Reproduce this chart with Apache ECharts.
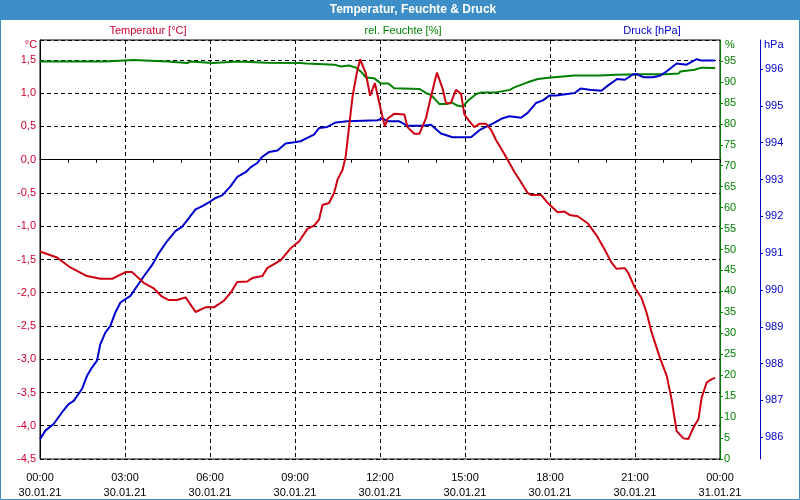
<!DOCTYPE html>
<html>
<head>
<meta charset="utf-8">
<script src="https://cdn.jsdelivr.net/npm/echarts@6/dist/echarts.min.js"></script>
<style>
html,body{margin:0;padding:0;background:#fff;}
#c{width:800px;height:500px;}
</style>
</head>
<body>
<div id="c"></div>
<script>
// ---- data (hours since 30.01.21 00:00) ----
const tempHours = [0,0.6,1.07,1.66,2.13,2.55,3.02,3.25,3.66,4.0,4.31,4.55,4.84,5.14,5.49,5.84,6.14,6.49,6.73,6.96,7.32,7.49,7.85,8.02,8.5,8.85,9.14,9.44,9.67,9.85,9.97,10.2,10.38,10.5,10.68,10.79,10.91,11.03,11.18,11.3,11.5,11.65,11.82,12.03,12.17,12.27,12.5,12.86,12.97,13.21,13.39,13.62,13.8,14.01,14.21,14.33,14.5,14.68,14.86,14.98,15.15,15.33,15.51,15.74,15.92,16.09,16.3,16.45,16.74,16.98,17.21,17.33,17.68,17.92,18.27,18.51,18.69,18.98,19.34,19.63,19.93,20.16,20.35,20.64,20.76,21.0,21.23,21.41,21.59,21.88,22.12,22.29,22.47,22.71,22.88,23.06,23.24,23.35,23.53,23.71,23.83];
const tempValues = [-1.38,-1.47,-1.62,-1.75,-1.79,-1.79,-1.69,-1.69,-1.85,-1.93,-2.06,-2.11,-2.11,-2.07,-2.29,-2.22,-2.22,-2.12,-2.0,-1.84,-1.83,-1.78,-1.75,-1.63,-1.51,-1.33,-1.23,-1.04,-0.99,-0.9,-0.68,-0.65,-0.5,-0.3,-0.15,0.05,0.5,0.95,1.3,1.51,1.3,0.96,1.15,0.75,0.5,0.62,0.69,0.68,0.49,0.39,0.39,0.62,0.95,1.31,1.07,0.85,0.85,1.05,0.99,0.68,0.58,0.49,0.54,0.54,0.45,0.3,0.15,0.04,-0.18,-0.34,-0.5,-0.53,-0.53,-0.65,-0.79,-0.78,-0.83,-0.85,-0.96,-1.13,-1.35,-1.54,-1.64,-1.63,-1.7,-1.93,-2.08,-2.3,-2.6,-2.98,-3.25,-3.6,-4.08,-4.19,-4.2,-4.03,-3.9,-3.58,-3.35,-3.3,-3.28];

const humHours = [0,2.3,2.31,3.3,3.35,4.5,4.55,5.2,5.3,5.35,6.1,6.15,7.0,7.05,8.0,9.2,9.4,10.4,10.6,10.9,11.15,11.32,11.51,11.79,12.03,12.3,12.5,13.4,13.63,13.8,14.1,14.34,14.52,14.75,14.93,15.1,15.4,15.58,16.1,16.58,16.74,17.21,17.57,18.04,18.87,19.76,20.34,21.2,22.1,22.55,22.6,23.1,23.35,23.83];
const humValues = [94.85,94.85,95.2,95.2,94.85,94.85,94.5,94.5,94.85,94.5,94.5,94.85,94.85,94.5,94.6,94.5,94.4,94.1,93.7,93.9,93.4,92.5,91.05,90.9,89.6,89.6,88.5,88.3,87.3,86.9,84.7,84.7,85.1,84.3,84.1,85.5,87.1,87.5,87.5,88.1,88.7,89.9,90.7,91.05,91.5,91.5,91.7,91.85,91.85,92.0,92.5,92.9,93.4,93.3];

const pressHours = [0,0.19,0.48,0.78,1.01,1.19,1.48,1.66,1.84,2.01,2.13,2.31,2.48,2.66,2.84,3.19,3.43,3.67,3.96,4.2,4.49,4.78,5.02,5.26,5.49,5.73,6.02,6.2,6.43,6.73,6.96,7.26,7.43,7.67,7.85,8.09,8.38,8.67,8.97,9.2,9.38,9.67,9.85,10.14,10.44,10.85,11.91,12.09,12.27,12.68,12.97,13.5,13.8,14.15,14.56,15.21,15.51,15.74,15.98,16.31,16.57,16.98,17.21,17.51,17.75,17.98,18.22,18.87,19.08,19.4,19.81,20.04,20.37,20.64,20.94,21.06,21.29,21.63,21.88,22.12,22.47,22.82,23.18,23.35,23.82];
const pressValues = [985.95,986.18,986.36,986.68,986.9,986.99,987.31,987.67,987.9,988.08,988.53,988.85,989.02,989.39,989.66,989.84,990.11,990.38,990.68,991.01,991.33,991.6,991.72,991.96,992.19,992.28,992.41,992.5,992.57,992.82,993.07,993.2,993.33,993.45,993.62,993.75,993.79,993.98,994.01,994.04,994.11,994.22,994.4,994.43,994.55,994.58,994.61,994.66,994.58,994.58,994.46,994.46,994.49,994.25,994.15,994.15,994.34,994.43,994.52,994.66,994.72,994.68,994.81,995.08,995.15,995.28,995.28,995.35,995.47,995.44,995.41,995.55,995.73,995.71,995.86,995.86,995.78,995.78,995.82,995.94,996.15,996.12,996.27,996.23,996.23];

const xTickHours = [0,3,6,9,12,15,18,21,24];
const dateLabels = ['30.01.21','31.01.21'];

const zip = (a,b) => a.map((v,i)=>[v,b[i]]);
const FONT = 'Liberation Sans';
const RED = '#cc0010', RED_T = '#d00030', GREEN = '#008000', BLUE = '#0000cc';

const chart = echarts.init(document.getElementById('c'), null, {renderer:'canvas'});
chart.setOption({
  animation:false,
  backgroundColor:'#ffffff',
  grid:{left:40,right:80,top:40,bottom:40,show:true,borderColor:'#000',borderWidth:1,backgroundColor:'#fff'},
  xAxis:{
    type:'value',min:0,max:24,interval:3,
    axisLine:{lineStyle:{color:'#000',width:1}},
    axisTick:{show:true,length:3,lineStyle:{color:'#000'}},
    minorTick:{show:true,splitNumber:3,length:3,lineStyle:{color:'#000'}},
    splitLine:{show:true,lineStyle:{color:'#000',type:[4,3],width:1}},
    axisLabel:{
      color:'#000',fontFamily:FONT,fontSize:11,margin:11,lineHeight:15,
      formatter:v=>{
        const h = v % 24;
        const hh = (h<10?'0':'')+h+':00';
        return hh+'\n'+(v>=24?dateLabels[1]:dateLabels[0]);
      }
    }
  },
  yAxis:[
    {
      type:'value',position:'left',min:-4.5,max:1.8,interval:0.5,
      axisLine:{show:true,lineStyle:{color:'#000'}},
      axisTick:{show:false},
      splitLine:{show:true,lineStyle:{color:'#000',type:[4,3],width:1}},
      axisLabel:{color:RED_T,fontFamily:FONT,fontSize:11,margin:4,showMaxLabel:false,
        formatter:v=>v.toFixed(1).replace('.',',')}
    },
    {
      type:'value',position:'right',offset:0,min:0,max:100,interval:5,
      axisLine:{show:true,lineStyle:{color:GREEN}},
      axisTick:{show:true,length:3,lineStyle:{color:GREEN}},
      splitLine:{show:false},
      axisLabel:{color:GREEN,fontFamily:FONT,fontSize:11,margin:4,showMaxLabel:false}
    },
    {
      type:'value',position:'right',offset:40,min:985.41,max:996.79,splitNumber:10,
      axisLine:{show:true,lineStyle:{color:BLUE}},
      axisTick:{show:true,length:3,lineStyle:{color:BLUE}},
      splitLine:{show:false},
      axisLabel:{color:BLUE,fontFamily:FONT,fontSize:11,margin:5,showMaxLabel:false,showMinLabel:false}
    }
  ],
  series:[
    {name:'rel. Feuchte [%]',type:'line',yAxisIndex:1,data:zip(humHours,humValues),showSymbol:false,
      lineStyle:{color:GREEN,width:2},itemStyle:{color:GREEN},z:2},
    {name:'Druck [hPa]',type:'line',yAxisIndex:2,data:zip(pressHours,pressValues),showSymbol:false,
      lineStyle:{color:BLUE,width:2},itemStyle:{color:BLUE},z:3},
    {name:'Temperatur [°C]',type:'line',yAxisIndex:0,data:zip(tempHours,tempValues),showSymbol:false,
      lineStyle:{color:RED,width:2},itemStyle:{color:RED},z:4}
  ],
  graphic:[
    {type:'rect',shape:{x:0,y:0,width:800,height:20},style:{fill:'#3d8ec6'},silent:true},
    {type:'rect',shape:{x:0.5,y:0.5,width:799,height:499},style:{fill:null,stroke:'#3d8ec6',lineWidth:1},silent:true},
    {type:'text',x:413,y:10,style:{text:'Temperatur, Feuchte & Druck',fill:'#fff',font:'bold 12px "Liberation Sans"',textAlign:'center',textVerticalAlign:'middle'}},
    {type:'text',x:148,y:31,style:{text:'Temperatur [°C]',fill:RED_T,font:'11px "Liberation Sans"',textAlign:'center',textVerticalAlign:'middle'}},
    {type:'text',x:403,y:31,style:{text:'rel. Feuchte [%]',fill:GREEN,font:'11px "Liberation Sans"',textAlign:'center',textVerticalAlign:'middle'}},
    {type:'text',x:652,y:31,style:{text:'Druck [hPa]',fill:BLUE,font:'11px "Liberation Sans"',textAlign:'center',textVerticalAlign:'middle'}},
    {type:'text',x:31,y:45,style:{text:'°C',fill:RED_T,font:'11px "Liberation Sans"',textAlign:'center',textVerticalAlign:'middle'}},
    {type:'text',x:730,y:45,style:{text:'%',fill:GREEN,font:'11px "Liberation Sans"',textAlign:'center',textVerticalAlign:'middle'}},
    {type:'text',x:764,y:45,style:{text:'hPa',fill:BLUE,font:'11px "Liberation Sans"',textAlign:'left',textVerticalAlign:'middle'}}
  ]
});
</script>
</body>
</html>
